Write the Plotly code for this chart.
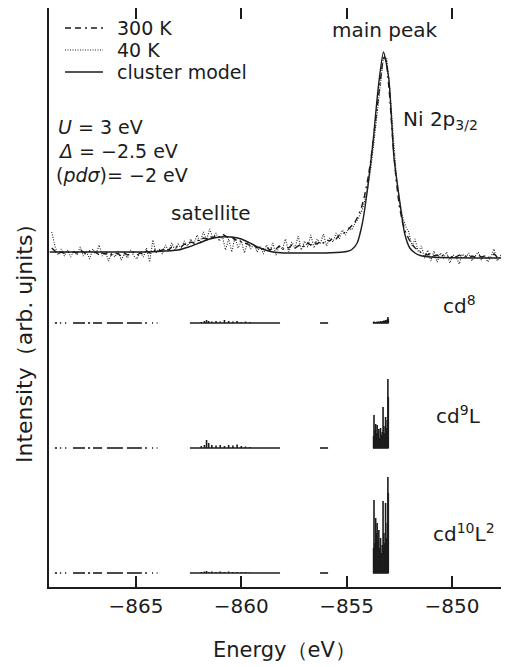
import numpy as np
import plotly.graph_objects as go

# ---------------- data ----------------
# experimental energy grid (eV)
energy_exp = np.round(-869.0 + 0.15 * np.arange(145), 2)

i_300K = [1.0, 0.7, 0.4, 0.6, 0.5, 0.7, 0.4, 0.6, 0.5, 0.8,
          0.6, 0.4, 0.7, 0.5, 0.6, 0.3, 0.5, 0.4, 0.6, 0.3,
          0.5, 0.4, 0.2, 0.5, 0.3, 0.4, 0.6, 0.3, 0.5, 0.4,
          0.7, 0.5, 0.6, 0.9, 0.7, 0.8, 1.0, 0.8, 1.1, 1.0,
          1.2, 1.1, 1.4, 1.3, 1.6, 1.5, 1.8, 1.7, 2.0, 1.9,
          2.2, 2.0, 2.3, 2.1, 2.4, 2.2, 2.0, 2.1, 1.8, 1.9,
          1.6, 1.5, 1.4, 1.2, 1.3, 1.0, 1.1, 0.9, 1.1, 0.8,
          1.0, 0.9, 1.2, 0.8, 1.1, 1.0, 1.3, 1.0, 1.2, 1.4,
          1.1, 1.5, 1.3, 1.6, 1.4, 1.7, 1.5, 1.8, 1.7, 2.0,
          1.9, 2.3, 2.4, 2.6, 2.9, 3.2, 3.6, 4.2, 5.0, 6.2,
          7.8, 9.8, 12.4, 15.2, 18.0, 20.3, 19.6, 16.0, 11.5, 7.8,
          5.2, 3.6, 2.6, 1.9, 1.4, 1.0, 0.8, 0.5, 0.4, 0.3,
          0.5, 0.2, 0.3, 0.1, 0.3, 0.2, 0.0, 0.2, 0.1, 0.3,
          0.1, 0.2, 0.0, 0.2, 0.1, 0.3, 0.1, 0.2, 0.0, 0.2,
          0.4, 0.1, 0.2, 0.0, 0.2]

i_40K = [2.6, 1.2, 0.3, 0.9, 0.2, 0.8, 0.1, 0.7, 0.3, 1.1,
         0.2, 0.6, -0.1, 0.9, 0.4, 1.3, 0.2, 0.6, -0.3, 0.5,
         0.1, 0.7, -0.2, 0.4, 0.0, 0.8, 0.2, -0.1, 0.6, 0.1,
         1.0, -0.4, 1.8, 0.5, 0.9, 0.4, 1.3, 0.7, 1.5, 0.8,
         1.4, 1.0, 1.7, 1.2, 1.9, 1.4, 2.3, 1.6, 2.6, 1.8,
         2.9, 2.0, 2.5, 1.7, 2.2, 0.8, 1.9, 0.6, 2.1, 1.0,
         1.7, 0.5, 1.6, 0.9, 1.4, 0.6, 1.2, 0.4, 1.3, 0.7,
         1.5, 0.3, 1.2, 0.9, 1.9, 0.6, 1.6, 1.0, 2.2, 0.8,
         1.7, 1.1, 2.3, 1.0, 1.9, 1.4, 2.4, 1.2, 2.0, 1.6,
         2.5, 1.9, 2.8, 2.3, 3.0, 2.8, 3.5, 3.9, 4.6, 5.6,
         7.0, 9.0, 11.6, 14.6, 17.6, 20.1, 20.0, 17.0, 12.6, 8.6,
         5.8, 4.2, 3.2, 2.6, 1.2, 1.9, 0.6, 1.2, 0.0, 0.8,
         -0.3, 0.7, -0.4, 0.5, 0.0, 0.6, -0.5, 0.3, 0.1, -0.6,
         0.4, 0.0, 0.5, -0.3, 0.2, 0.6, -0.2, 0.3, -0.4, 0.1,
         0.9, -0.3, 0.2, 0.7, -0.1]

energy_model = [-869.1, -868.0, -867.0, -866.0, -865.0, -864.0, -863.0, -862.5,
                -862.0, -861.5, -861.0, -860.5, -860.0, -859.5, -859.0, -858.5,
                -858.0, -857.0, -856.0, -855.5, -855.0, -854.75, -854.5, -854.25,
                -854.0, -853.75, -853.5, -853.25, -853.0, -852.75, -852.5, -852.25,
                -852.0, -851.75, -851.5, -851.0, -850.0, -848.0, -847.3]
i_model = [0.6, 0.6, 0.6, 0.6, 0.6, 0.65, 0.8, 1.1,
           1.5, 1.9, 2.1, 2.1, 1.9, 1.4, 0.9, 0.6,
           0.5, 0.5, 0.5, 0.55, 0.65, 0.85, 1.5, 3.5,
           7.0, 11.5, 17.0, 20.6, 18.0, 10.0, 6.0, 2.5,
           1.0, 0.5, 0.25, 0.1, 0.02, 0.0, 0.0]

# stick spectra of the final-state configurations
stick_e_main = [-853.72, -853.70, -853.66, -853.62, -853.58, -853.55, -853.51,
                -853.47, -853.43, -853.39, -853.35, -853.31, -853.27, -853.23,
                -853.19, -853.15, -853.11, -853.07, -853.04, -853.02]
cd8_main = [0.1, 0.15, 0.1, 0.1, 0.1, 0.15, 0.1, 0.15, 0.1, 0.2,
            0.1, 0.2, 0.2, 0.25, 0.2, 0.3, 0.25, 0.35, 0.6, 0.4]
cd9L_main = [1.2, 3.3, 1.8, 2.4, 1.5, 2.3, 1.4, 1.9, 1.0, 2.0,
             1.3, 1.6, 4.1, 2.2, 1.5, 3.1, 2.0, 2.8, 6.9, 5.1]
cd10L2_main = [2.5, 7.3, 3.0, 5.5, 4.0, 5.0, 3.2, 4.3, 2.5, 3.5,
               2.0, 2.8, 7.2, 4.0, 3.0, 7.0, 3.5, 5.0, 9.6, 8.0]

stick_e_sat = [-861.9, -861.75, -861.65, -861.55, -861.4, -861.2, -861.0,
               -860.8, -860.6, -860.4, -860.2, -860.0, -859.8, -859.6]
cd8_sat = [0.1, 0.2, 0.3, 0.2, 0.15, 0.2, 0.15, 0.3, 0.2, 0.15, 0.2, 0.1, 0.15, 0.1]
cd9L_sat = [0.2, 0.3, 0.8, 0.5, 0.3, 0.25, 0.3, 0.2, 0.3, 0.25, 0.35, 0.2, 0.15, 0.1]
cd10L2_sat = [0.1, 0.15, 0.2, 0.1, 0.15, 0.1, 0.15, 0.1, 0.15, 0.1, 0.1, 0.1, 0.1, 0.05]

# baseline segments (start, end) where the stick spectra are drawn
seg_start = [-868.85, -868.61, -868.37, -867.99, -867.28, -867.04, -866.38,
             -865.43, -864.57, -864.24, -864.02, -862.44, -856.26, -853.75]
seg_end = [-868.75, -868.55, -868.31, -867.42, -867.18, -866.61, -865.62,
           -864.72, -864.48, -864.19, -863.98, -858.16, -855.88, -853.0]

x_ticks = [-865, -860, -855, -850]
x_ticklabels = ["\u2212865", "\u2212860", "\u2212855", "\u2212850"]

configs = ["cd8", "cd9L", "cd10L2"]
legend_names = ["300 K", "40 K", "cluster model"]

# ---------------- layout constants ----------------
PAGE_W, PAGE_H = 509, 667
BODY = 8                     # default browser body margin
W, H = PAGE_W - BODY, PAGE_H - BODY
ML, MR, MT, MB = 41, 0, 0, 80
PW, PH = W - ML - MR, H - MT - MB
Y_MAX = 57.9
OFF_MAIN = 32.9
OFFSETS = {"cd8": 26.4, "cd9L": 13.9, "cd10L2": 1.4}
INK = "#1c1c1c"
FONT = "DejaVu Sans"
DASH_300 = "6px,4px,6px,4px,2px,4px"
DASH_40 = "1px,1.5px"


def px_x(px):
    """page pixel -> paper x"""
    return (px - BODY - ML) / PW


def px_y(py):
    """page pixel -> paper y"""
    return (H - MB - (py - BODY)) / PH


fig = go.Figure()

fig.add_trace(go.Scatter(x=energy_exp, y=np.array(i_300K) + OFF_MAIN, mode="lines",
                         name=legend_names[0], showlegend=False,
                         line=dict(color=INK, width=1.4, dash=DASH_300)))
fig.add_trace(go.Scatter(x=energy_exp, y=np.array(i_40K) + OFF_MAIN, mode="lines",
                         name=legend_names[1], showlegend=False,
                         line=dict(color=INK, width=1.1, dash=DASH_40)))
fig.add_trace(go.Scatter(x=energy_model, y=np.array(i_model) + OFF_MAIN, mode="lines",
                         name=legend_names[2], showlegend=False,
                         line=dict(color=INK, width=1.4, shape="spline", smoothing=0.6)))

stick_data = {
    "cd8": (cd8_main, cd8_sat),
    "cd9L": (cd9L_main, cd9L_sat),
    "cd10L2": (cd10L2_main, cd10L2_sat),
}
for cfg in configs:
    base = OFFSETS[cfg]
    xs, ys = [], []
    for s, e in zip(seg_start, seg_end):
        xs += [s, e, None]
        ys += [base, base, None]
    main_i, sat_i = stick_data[cfg]
    for ee, ii in list(zip(stick_e_main, main_i)) + list(zip(stick_e_sat, sat_i)):
        xs += [ee, ee, None]
        ys += [base, base + ii, None]
    fig.add_trace(go.Scatter(x=xs, y=ys, mode="lines", showlegend=False, name=cfg,
                             line=dict(color=INK, width=1.6), hoverinfo="skip"))

# hand-drawn legend (line samples + labels)
shapes = []
legend_rows = [28, 50, 72]
legend_styles = [dict(width=1.4, dash=DASH_300), dict(width=1.1, dash=DASH_40), dict(width=1.4, dash="solid")]
for py, st in zip(legend_rows, legend_styles):
    shapes.append(dict(type="line", xref="paper", yref="paper",
                       x0=px_x(65), x1=px_x(103), y0=px_y(py), y1=px_y(py),
                       line=dict(color=INK, **st)))

ann_font = dict(family=FONT, size=20, color=INK)
leg_font = dict(family=FONT, size=19, color=INK)
annotations = []
for py, name in zip(legend_rows, legend_names):
    annotations.append(dict(x=px_x(115), y=px_y(py), text=name, xanchor="left", font=leg_font))
annotations += [
    dict(x=px_x(56), y=px_y(127), text="<i>U</i> = 3 eV", xanchor="left", font=leg_font),
    dict(x=px_x(56), y=px_y(151), text="<i>Δ</i> = \u22122.5 eV", xanchor="left", font=leg_font),
    dict(x=px_x(54), y=px_y(175), text="(<i>pdσ</i>)= \u22122 eV", xanchor="left", font=leg_font),
    dict(x=px_x(211), y=px_y(213), text="satellite", xanchor="center"),
    dict(x=px_x(385), y=px_y(30), text="main peak", xanchor="center"),
    dict(x=px_x(401), y=px_y(120), text="Ni 2p<sub>3/2</sub>", xanchor="left"),
    dict(x=px_x(441), y=px_y(305), text="cd<sup>8</sup>", xanchor="left"),
    dict(x=px_x(434), y=px_y(415), text="cd<sup>9</sup>L", xanchor="left"),
    dict(x=px_x(431), y=px_y(533), text="cd<sup>10</sup>L<sup>2</sup>", xanchor="left"),
    dict(x=px_x(24), y=px_y(338), text="Intensity\uff08arb. ujnits\uff09", textangle=-90,
         xanchor="center", yanchor="middle", font=dict(family=FONT, size=22, color=INK)),
    dict(x=px_x(284), y=px_y(650), text="Energy\uff08eV\uff09", xanchor="center",
         font=dict(family=FONT, size=21, color=INK)),
]
for a in annotations:
    a.setdefault("font", ann_font)
    a.setdefault("yanchor", "middle")
    a.update(xref="paper", yref="paper", showarrow=False)

fig.update_layout(
    width=W, height=H,
    margin=dict(l=ML, r=MR, t=MT, b=MB, autoexpand=False),
    plot_bgcolor="white", paper_bgcolor="white",
    font=dict(family=FONT, color=INK),
    annotations=annotations, shapes=shapes,
    showlegend=False,
    xaxis=dict(range=[-869.13, -847.29], tickvals=x_ticks, ticktext=x_ticklabels,
               ticks="inside", ticklen=11, tickwidth=1.5, tickcolor=INK,
               showline=True, linecolor=INK, linewidth=1.5, mirror="ticks",
               showgrid=False, zeroline=False,
               tickfont=dict(family=FONT, size=20, color=INK)),
    yaxis=dict(range=[0, Y_MAX], showticklabels=False, ticks="",
               showline=True, linecolor=INK, linewidth=1.5, mirror=False,
               showgrid=False, zeroline=False),
)

fig.write_html("out.html")
